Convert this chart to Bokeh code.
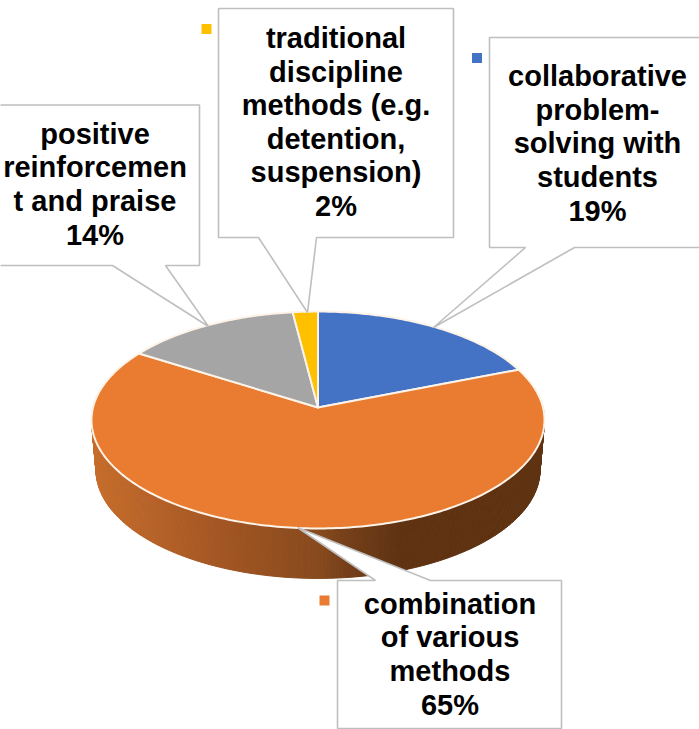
import numpy as np
from bokeh.plotting import figure
from bokeh.models import Range1d
from bokeh.core.properties import value
from bokeh.embed import file_html
from bokeh.resources import INLINE

# ---- data ----
categories = ["collaborative problem-solving with students",
              "combination of various methods",
              "positive reinforcement and praise",
              "traditional discipline methods (e.g. detention, suspension)"]
shares = [19, 65, 14, 2]
colors = ["#4472C4", "#E97C30", "#A5A5A5", "#FFC000"]
label_lines = [
    ["collaborative", "problem-", "solving with", "students", "19%"],
    ["combination", "of various", "methods", "65%"],
    ["positive", "reinforcemen", "t and praise", "14%"],
    ["traditional", "discipline", "methods (e.g.", "detention,", "suspension)", "2%"],
]

# ---- layout (reference pixels) ----
W, H = 699, 729
CX, APEX_Y = 317.5, 407.0
A, B, C = 225.0, 107.0, 0.1152
DEPTH = 50.0
BOTTOM_SCALE = 0.98
label_x = [597, 449.5, 94.5, 335.5]
label_first_base = [75.5, 603, 133, 37.5]
line_step = [33.7, 33.7, 33.9, 33.6]
callouts = [
    ([489, 705, 705, 574, 433, 525, 489], [37, 37, 247, 247, 327, 247, 247]),
    ([337, 375, 297, 430, 561, 561, 337], [580, 580, 527, 580, 580, 728, 728]),
    ([-5, 199, 199, 165, 208, 112, -5], [104.5, 104.5, 265, 265, 326, 265, 265]),
    ([218, 453, 453, 316, 307, 258, 218], [8, 8, 237, 237, 312, 237, 237]),
]
marker_x = [476.5, 324, None, 206]
marker_y = [57.5, 600, None, 28.5]
wall_x = [91, 100, 150, 230, 320, 345, 400, 544]
wall_rgb = [(200, 110, 45), (196, 108, 42), (183, 99, 42), (160, 85, 34),
            (135, 74, 30), (118, 64, 26), (95, 51, 18), (95, 52, 18)]


def rim(t, scale=1.0, dy=0.0):
    u, v = np.sin(t), np.cos(t)
    d = 1 + C * v
    return CX + scale * A * u / d, APEX_Y - B * v / d + dy


p = figure(width=W, height=H, x_range=Range1d(0, W), y_range=Range1d(H, 0),
           output_backend="svg", toolbar_location=None, min_border=0,
           outline_line_color=None, background_fill_color="white",
           border_fill_color="white")
p.axis.visible = False
p.grid.visible = False
p.styles = {"position": "absolute", "left": "0px", "top": "0px"}

# side wall: narrow strips shaded along x
tt = np.radians(np.linspace(84, 276, 260))
xs, ys, cs = [], [], []
for a, b in zip(tt[:-1], tt[1:]):
    x1, y1 = rim(a)
    x2, y2 = rim(b)
    x3, y3 = rim(b, BOTTOM_SCALE, DEPTH)
    x4, y4 = rim(a, BOTTOM_SCALE, DEPTH)
    mx = (x1 + x2) / 2
    rgb = [int(np.interp(mx, wall_x, [c[i] for c in wall_rgb])) for i in range(3)]
    xs.append([x1, x2, x3, x4])
    ys.append([y1, y2, y3, y4])
    cs.append("#%02x%02x%02x" % tuple(rgb))
p.patches(xs, ys, fill_color=cs, line_color=cs, line_width=1)

# top surface slices, driven by the shares
edges = np.cumsum([0] + shares) / sum(shares) * 2 * np.pi
sx, sy = [], []
for s, e in zip(edges[:-1], edges[1:]):
    t = np.linspace(s, e, max(int((e - s) * 60), 4))
    rx, ry = rim(t)
    sx.append([CX] + list(rx))
    sy.append([APEX_Y] + list(ry))
p.patches(sx, sy, fill_color=colors, line_color="#FDF3E8", line_width=2,
          line_join="round")

# callouts
p.patches([c[0] for c in callouts], [c[1] for c in callouts],
          fill_color="white", line_color="#BFBFBF", line_width=1.6)

# legend keys
keep = [i for i, v in enumerate(marker_x) if v is not None]
p.scatter([marker_x[i] for i in keep], [marker_y[i] for i in keep],
          marker="square", size=10, line_width=0,
          color=[colors[i] for i in keep])

# labels
tx, ty, ts = [], [], []
for lines, x0, y0, step in zip(label_lines, label_x, label_first_base, line_step):
    for j, line in enumerate(lines):
        tx.append(x0)
        ty.append(y0 + j * step)
        ts.append(line)
p.text(tx, ty, text=ts, text_font=value("Liberation Sans"), text_font_style="bold",
       text_font_size="29px", text_align="center", text_baseline="alphabetic",
       text_color="black")

open("out.html", "w").write(file_html(p, INLINE))
